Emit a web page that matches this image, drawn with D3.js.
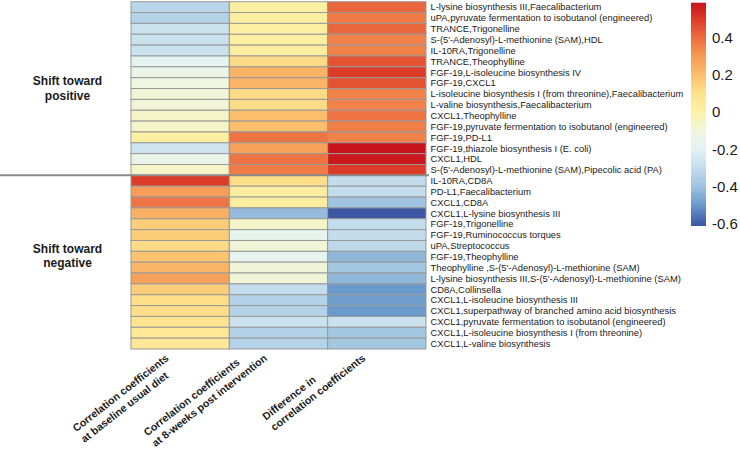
<!DOCTYPE html>
<html>
<head>
<meta charset="utf-8">
<script src="https://cdn.jsdelivr.net/npm/d3@7"></script>
<style>
  body { margin: 0; background: #fff; }
  text { font-family: "Liberation Sans", Arial, sans-serif; fill: #1a1a1a; }
</style>
</head>
<body>
<script>
// row labels, top to bottom
const rowLabels = [
  "L-lysine biosynthesis III,Faecalibacterium",
  "uPA,pyruvate fermentation to isobutanol (engineered)",
  "TRANCE,Trigonelline",
  "S-(5'-Adenosyl)-L-methionine (SAM),HDL",
  "IL-10RA,Trigonelline",
  "TRANCE,Theophylline",
  "FGF-19,L-isoleucine biosynthesis IV",
  "FGF-19,CXCL1",
  "L-isoleucine biosynthesis I (from threonine),Faecalibacterium",
  "L-valine biosynthesis,Faecalibacterium",
  "CXCL1,Theophylline",
  "FGF-19,pyruvate fermentation to isobutanol (engineered)",
  "FGF-19,PD-L1",
  "FGF-19,thiazole biosynthesis I (E. coli)",
  "CXCL1,HDL",
  "S-(5'-Adenosyl)-L-methionine (SAM),Pipecolic acid (PA)",
  "IL-10RA,CD8A",
  "PD-L1,Faecalibacterium",
  "CXCL1,CD8A",
  "CXCL1,L-lysine biosynthesis III",
  "FGF-19,Trigonelline",
  "FGF-19,Ruminococcus torques",
  "uPA,Streptococcus",
  "FGF-19,Theophylline",
  "Theophylline ,S-(5'-Adenosyl)-L-methionine (SAM)",
  "L-lysine biosynthesis III,S-(5'-Adenosyl)-L-methionine (SAM)",
  "CD8A,Collinsella",
  "CXCL1,L-isoleucine biosynthesis III",
  "CXCL1,superpathway of branched amino acid biosynthesis",
  "CXCL1,pyruvate fermentation to isobutanol (engineered)",
  "CXCL1,L-isoleucine biosynthesis I (from threonine)",
  "CXCL1,L-valine biosynthesis"
];

const baseline = [-0.33, -0.34, -0.28, -0.28, -0.28, -0.18, -0.14, -0.11, -0.09, -0.09, -0.06, -0.06, 0.02, -0.27, -0.14, -0.06,
                  0.50, 0.29, 0.38, 0.24, 0.16, 0.16, 0.12, 0.19, 0.23, 0.28, 0.16, 0.11, 0.11, 0.08, 0.06, 0.06];
const week8    = [0.02, 0.02, 0.02, 0.02, 0.03, 0.12, 0.23, 0.23, 0.12, 0.12, 0.20, 0.20, 0.38, 0.28, 0.38, 0.37,
                  0.11, 0.03, 0.03, -0.42, -0.06, -0.17, -0.09, -0.17, -0.09, -0.09, -0.30, -0.34, -0.34, -0.28, -0.34, -0.34];
const difference = [0.41, 0.37, 0.41, 0.35, 0.35, 0.45, 0.50, 0.45, 0.35, 0.35, 0.38, 0.36, 0.35, 0.59, 0.58, 0.50,
                  -0.30, -0.30, -0.40, -0.61, -0.30, -0.30, -0.32, -0.43, -0.39, -0.43, -0.50, -0.49, -0.50, -0.28, -0.39, -0.39];

const columnLabels = [
  ["Correlation coefficients", "at baseline usual diet"],
  ["Correlation coefficients", "at 8-weeks post intervention"],
  ["Difference in", "correlation coefficients"]
];

const groupLabels = [["Shift toward", "positive"], ["Shift toward", "negative"]];
const groupSize = 16;

const legendTicks = [-0.6, -0.4, -0.2, 0, 0.2, 0.4];
const legendDomain = [-0.613, 0.588];

// colour ramp (value -> colour)
const rampValues = [-0.613, -0.5, -0.4, -0.3, -0.2, -0.1, 0, 0.1, 0.2, 0.3, 0.4, 0.5, 0.588];
const rampColors = ["#3a55a2", "#6a9acb", "#9fc3e0", "#c4dded", "#e3f2f4", "#eff5de", "#fdf2a6",
                    "#fee18b", "#fbbf6c", "#f59a55", "#ec6c3e", "#dc3b27", "#c9141b"];

const W = 740, H = 449;
const color = d3.scaleLinear().domain(rampValues).range(rampColors).interpolate(d3.interpolateRgb);

const svg = d3.select("body").append("svg").attr("width", W).attr("height", H);

const x = d3.scaleBand().domain(d3.range(3)).range([131, 426]);
const y = d3.scaleBand().domain(rowLabels).range([1.7, 349]);

const series = [baseline, week8, difference];
const cells = [];
rowLabels.forEach((r, i) => series.forEach((s, j) => cells.push({row: r, col: j, v: s[i]})));

svg.append("g").selectAll("rect").data(cells).join("rect")
  .attr("x", d => x(d.col))
  .attr("y", d => y(d.row))
  .attr("width", x.bandwidth())
  .attr("height", y.bandwidth())
  .attr("fill", d => color(d.v))
  .attr("stroke", "#999")
  .attr("stroke-width", 1);

// group divider
const splitY = y(rowLabels[groupSize]);
svg.append("line")
  .attr("x1", 0).attr("x2", 429)
  .attr("y1", splitY).attr("y2", splitY)
  .attr("stroke", "#8a8a8a").attr("stroke-width", 2);

// row labels
svg.append("g").selectAll("text").data(rowLabels).join("text")
  .attr("x", 430.5)
  .attr("y", d => y(d) + y.bandwidth() / 2)
  .attr("dy", "0.35em")
  .style("font-size", "9.4px")
  .text(d => d);

// group labels
const groupCenters = [
  (y(rowLabels[0]) + splitY) / 2,
  (splitY + y(rowLabels[rowLabels.length - 1]) + y.bandwidth()) / 2 - 6
];
groupLabels.forEach((lines, k) => {
  const t = svg.append("text")
    .attr("text-anchor", "middle")
    .style("font-size", "12px")
    .style("font-weight", "bold");
  lines.forEach((l, n) => {
    t.append("tspan").attr("x", 67.5)
      .attr("y", groupCenters[k] + (n - 0.5) * 14.5 + 4)
      .text(l);
  });
});

// column labels, rotated; left-aligned lines, block placed by its highest point
const ang = 38 * Math.PI / 180, lineH = 13.5, capOff = 7;
columnLabels.forEach((lines, j) => {
  const cx = x(j) + x.bandwidth() / 2;
  const g = svg.append("g");
  const ts = lines.map((l, n) => g.append("text")
    .attr("x", 0)
    .attr("y", n * lineH)
    .style("font-size", "10.6px")
    .style("font-weight", "bold")
    .text(l));
  // local end-top point of each line -> screen offset after rotate(-38)
  const ends = ts.map((t, n) => {
    const lx = t.node().getComputedTextLength(), ly = n * lineH - capOff;
    return [lx * Math.cos(ang) + ly * Math.sin(ang), -lx * Math.sin(ang) + ly * Math.cos(ang)];
  });
  const hi = ends.reduce((a, b) => (b[1] < a[1] ? b : a));
  g.attr("transform", `translate(${cx - 15 - hi[0]},${354 - hi[1]}) rotate(-38)`);
});

// colour bar
const ly = d3.scaleLinear().domain(legendDomain).range([226, 2.7]);
const grad = svg.append("defs").append("linearGradient")
  .attr("id", "cbar").attr("x1", 0).attr("y1", 1).attr("x2", 0).attr("y2", 0);
rampValues.forEach((v, i) => grad.append("stop")
  .attr("offset", (v - legendDomain[0]) / (legendDomain[1] - legendDomain[0]))
  .attr("stop-color", rampColors[i]));
svg.append("rect")
  .attr("x", 691).attr("y", ly(legendDomain[1]))
  .attr("width", 15).attr("height", ly(legendDomain[0]) - ly(legendDomain[1]))
  .attr("fill", "url(#cbar)");
svg.append("g").selectAll("text").data(legendTicks).join("text")
  .attr("x", 712)
  .attr("y", d => ly(d))
  .attr("dy", "0.36em")
  .style("font-size", "15px")
  .text(d => d === 0 ? "0" : String(d));
</script>
</body>
</html>
